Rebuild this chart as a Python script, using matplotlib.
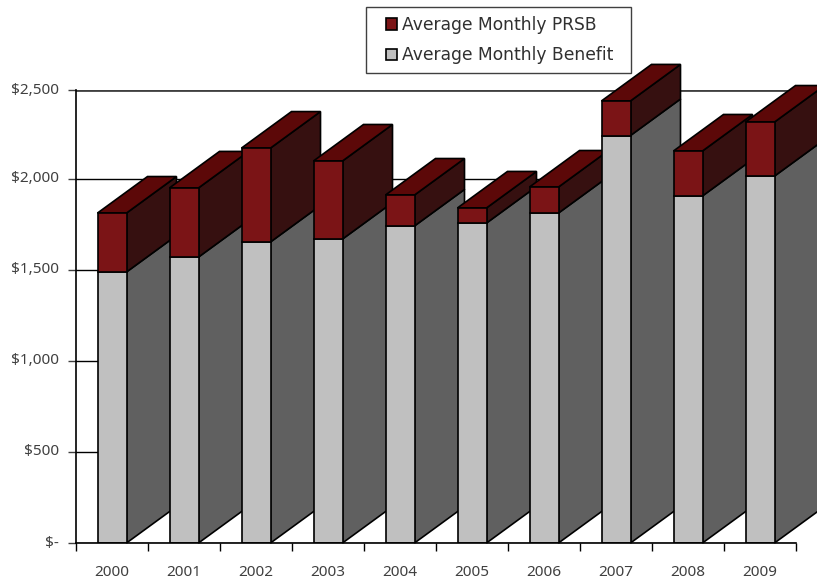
import matplotlib
matplotlib.use("Agg")
import matplotlib.pyplot as plt
from matplotlib.patches import Patch, Polygon, Rectangle
from matplotlib.transforms import ScaledTranslation

years = ["2000", "2001", "2002", "2003", "2004", "2005", "2006", "2007", "2008", "2009"]
benefit = [1489, 1571, 1654, 1670, 1742, 1758, 1813, 2239, 1907, 2016]
prsb = [324, 380, 516, 429, 170, 83, 143, 190, 247, 297]
y_labels = ["$-", "$500", "$1,000", "$1,500", "$2,000", "$2,500"]
# top line sits a little low in the original, so it is not quite at 2500
y_ticks = [0, 500, 1000, 1500, 2000, 2489]

W, H = 817, 581
plt.rcParams["font.family"] = ["Noto Sans", "DejaVu Sans"]

fig = plt.figure(figsize=(W / 100, H / 100), dpi=100)
ax = fig.add_axes([76 / W, 1 - 543 / H, 720 / W, 453 / H])
ax.set_xlim(0, 10)
ax.set_ylim(0, y_ticks[-1])

bar_w = 29 / 72
# the fake 3d depth, same offset for every bar
dx = 50 / 72
dy = 36.5 / 0.182
lw = 1.2


def side(x, y0, y1, color, z):
    ax.add_patch(Polygon([(x, y0), (x + dx, y0 + dy), (x + dx, y1 + dy), (x, y1)],
                         closed=True, facecolor=color, edgecolor="black", lw=lw,
                         zorder=z, clip_on=False))


for i in range(len(years)):
    c = i + 0.5
    r = c + bar_w / 2
    l = c - bar_w / 2
    total = benefit[i] + prsb[i]
    z = 3 + i
    side(r, 0, benefit[i], "#606060", z)
    side(r, benefit[i], total, "#361010", z)
    ax.add_patch(Polygon([(l, total), (r, total), (r + dx, total + dy), (l + dx, total + dy)],
                         closed=True, facecolor="#5C0808", edgecolor="black", lw=lw,
                         zorder=z, clip_on=False))
    ax.bar(c, benefit[i], bar_w, color="#C0C0C0", edgecolor="black", lw=lw, zorder=z + 0.5)
    ax.bar(c, prsb[i], bar_w, bottom=benefit[i], color="#7B1416", edgecolor="black", lw=lw,
           zorder=z + 0.5)

ax.set_yticks(y_ticks)
ax.set_yticklabels(y_labels)
ax.set_xticks(range(11))
ax.set_xticklabels([])
ax.set_xticks([i + 0.5 for i in range(10)], minor=True)
ax.set_xticklabels(years, minor=True)
ax.tick_params(axis="x", which="major", length=5.5, width=1, color="black")
ax.tick_params(axis="x", which="minor", length=0, pad=16, labelsize=11, labelcolor="#404040")
ax.tick_params(axis="y", length=5.8, width=1, color="#404040", pad=6.5, labelsize=11, labelcolor="#404040")

# labels sit 2px above their ticks
for t in ax.get_yticklabels():
    t.set_transform(t.get_transform() + ScaledTranslation(0, 2 / 100, fig.dpi_scale_trans))

ax.grid(axis="y", color="black", lw=1)
ax.set_axisbelow(True)
ax.get_ygridlines()[-1].set_color("#404040")
ax.get_ygridlines()[-1].set_linewidth(2)

ax.spines["top"].set_visible(False)
ax.spines["right"].set_visible(False)
ax.spines["left"].set_linewidth(1.2)
ax.spines["bottom"].set_linewidth(1.2)
ax.spines["bottom"].set_zorder(20)

# legend box drawn separately, its padding is wider than tall
fig.add_artist(Rectangle((366 / W, 1 - 73 / H), 265 / W, 66 / H, transform=fig.transFigure,
                         facecolor="white", edgecolor="#404040", lw=1, zorder=29))
handles = [Patch(facecolor="#7B1416", edgecolor="black", lw=1.2, label="Average Monthly PRSB"),
           Patch(facecolor="#C0C0C0", edgecolor="black", lw=1.2, label="Average Monthly Benefit")]
leg = fig.legend(handles=handles, loc="upper left", bbox_to_anchor=(386 / W, 1 - 16 / H),
                 borderaxespad=0, frameon=False, borderpad=0,
                 prop={"family": "DejaVu Sans", "size": 12.3}, labelcolor="#303030",
                 handlelength=0.65, handleheight=0.65, handletextpad=0.3,
                 labelspacing=0.72)
leg.set_zorder(30)

fig.savefig("out.png", dpi=100)
